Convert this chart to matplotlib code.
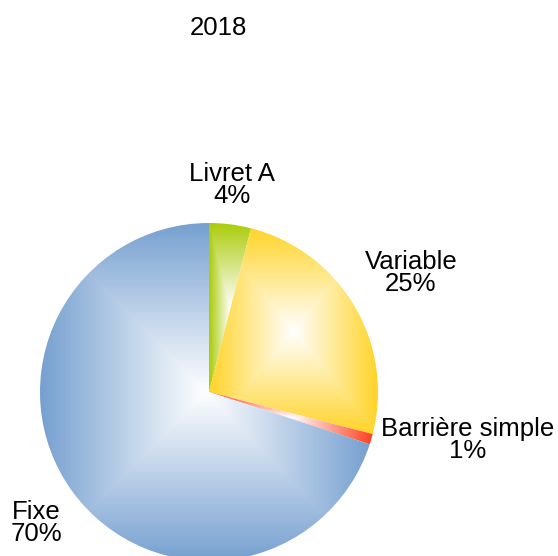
import numpy as np
import matplotlib
matplotlib.use("Agg")
import matplotlib.pyplot as plt
from matplotlib.colors import to_rgb

title = "2018"
categories = ["Livret A", "Variable", "Barrière simple", "Fixe"]
values = [4, 25, 1, 70]
colors = ["#abcc0a", "#ffd428", "#ff4020", "#76a0d0"]

plt.rcParams['font.family'] = ['Liberation Sans', 'DejaVu Sans']

W, H = 558, 556
fig = plt.figure(figsize=(W / 100, H / 100), dpi=100)
ax = fig.add_axes([0, 0, 1, 1])

cx, cy, R = 209, H - 392, 169
wedges, _ = ax.pie(values, startangle=90, counterclock=False,
                   center=(cx, cy), radius=R, frame=True,
                   wedgeprops=dict(linewidth=0))
ax.set_xlim(0, W)
ax.set_ylim(0, H)
ax.set_aspect('equal')
ax.axis('off')

for w, col in zip(wedges, colors):
    ext = w.get_path().get_extents()
    x0, y0, x1, y1 = ext.x0, ext.y0, ext.x1, ext.y1
    nx = max(int((x1 - x0) * 2), 4)
    ny = max(int((y1 - y0) * 2), 4)
    xs = np.linspace(x0, x1, nx)
    ys = np.linspace(y0, y1, ny)
    X, Y = np.meshgrid(xs, ys)
    mx, my = (x0 + x1) / 2, (y0 + y1) / 2
    hw, hh = (x1 - x0) / 2, (y1 - y0) / 2
    v = np.maximum(np.abs(X - mx) / hw, np.abs(Y - my) / hh)
    v = np.clip(v, 0, 1)
    c = np.array(to_rgb(col))
    img = (1 - v[..., None]) * np.ones(3) + v[..., None] * c
    w.set_facecolor('none')
    im = ax.imshow(img, extent=(x0, x1, y0, y1), origin='lower',
                   interpolation='bilinear', zorder=1)
    im.set_clip_path(w)
ax.set_xlim(0, W)
ax.set_ylim(0, H)

fs = 18.5
ax.text(218, H - 28, title, ha='center', va='center', fontsize=fs)
label_pos = [(232, 185), (411, 273), (468, 440), (36, 523)]
for name, val, (lx, ly) in zip(categories, values, label_pos):
    ax.text(lx, H - ly, f"{name}\n{val}%", ha='center', va='center',
            fontsize=fs, linespacing=0.93, multialignment='center')

fig.savefig("out.png", dpi=100)
